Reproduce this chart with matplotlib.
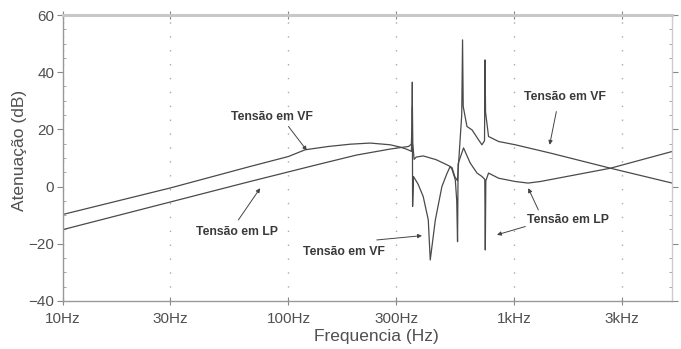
import numpy as np
import matplotlib
matplotlib.use("Agg")
import matplotlib.pyplot as plt
from matplotlib.ticker import FixedLocator, MultipleLocator, NullFormatter

# Data (frequency in Hz, attenuation in dB)
vf_freq = [10, 30, 67.6, 100, 118.5, 150, 187.6, 230, 282, 312, 335, 350,
           352.5, 353.5, 354.5, 357.8, 375, 395, 416, 424.4, 447, 478, 503,
           520, 530, 545, 560, 585, 590, 594, 617, 650, 695, 719, 738,
           742, 746, 769, 852, 1010, 1444, 2665, 5000]
vf_db = [-9.8, -0.5, 7.0, 10.5, 12.85, 14.0, 14.8, 15.2, 14.6, 13.8, 13.0, 12.3,
         18, 36.5, -7, 3.5, 0.8, -3.5, -11.7, -25.7, -11.7, 0, 4.5,
         7.0, 6.6, 3.5, 2.0, 25, 51.3, 28, 21, 19.8, 16.3, 14.6, 16,
         44.3, 26, 17.5, 15.75, 14.6, 11.7, 6.4, 1.2]

lp_freq = [10, 67.6, 133.5, 200, 282, 312, 340, 350, 352.8, 353.8, 355,
           360, 368, 395, 450, 503, 520, 530, 548, 556, 560.6, 564, 596,
           638, 684, 719, 740, 744, 748, 769, 852, 1010, 1150, 1304, 2665,
           5000]
lp_db = [-15.1, 1.75, 7.6, 11.0, 13.1, 13.6, 14.0, 14.8, 22, 28, 15.3,
         9.5, 10.3, 10.7, 9.4, 7.6, 7.0, 6.0, 2.3, -5, -19.3, 8, 13.5,
         8.2, 4.7, 3.5, 2.5, -22.2, 2.0, 4.7, 2.9, 1.75, 1.2, 1.75, 6.4,
         12.25]

x_ticks = [10, 30, 100, 300, 1000, 3000]
x_labels = ["10Hz", "30Hz", "100Hz", "300Hz", "1kHz", "3kHz"]
y_ticks = [-40, -20, 0, 20, 40, 60]

plt.rcParams["font.family"] = ["Liberation Sans", "DejaVu Sans"]

fig = plt.figure(figsize=(6.81, 3.49), dpi=100)
ax = fig.add_axes([0.092, 0.138, 0.895, 0.819])

line_color = "#4a4a4a"
ax.plot(lp_freq, lp_db, color=line_color, lw=0.9)
ax.plot(vf_freq, vf_db, color=line_color, lw=0.9)

ax.set_xscale("log")
ax.set_xlim(10, 5000)
ax.set_ylim(-40, 60)

ax.xaxis.set_major_locator(FixedLocator(x_ticks))
ax.xaxis.set_minor_locator(FixedLocator([]))
ax.set_xticks(x_ticks)
ax.set_xticklabels(x_labels)
ax.xaxis.set_minor_formatter(NullFormatter())
ax.set_yticks(y_ticks)
ax.yaxis.set_minor_locator(MultipleLocator(5))

text_color = "#505050"
ax.tick_params(axis="both", which="major", labelsize=11, colors="#888888",
               labelcolor=text_color)
ax.tick_params(axis="x", which="major", direction="inout", length=6,
               top=True, pad=5)
ax.tick_params(axis="y", which="major", direction="out", length=4,
               right=True, pad=2)
ax.tick_params(axis="y", which="minor", direction="in", length=2,
               right=True, colors="#999999")

for side in ["left", "bottom"]:
    ax.spines[side].set_color("#999999")
    ax.spines[side].set_linewidth(1.0)
ax.spines["top"].set_color("#c8c8c8")
ax.spines["top"].set_linewidth(2.2)
ax.spines["right"].set_color("#cccccc")
ax.spines["right"].set_linewidth(1.0)

# sparse dotted grid on the frequency ticks
ax.grid(True, axis="x", which="major", color="#aaaaaa", lw=1.0,
        linestyle=(0, (1, 9)))

ax.set_xlabel("Frequencia (Hz)", fontsize=12.5, color=text_color)
ax.set_ylabel("Atenuação (dB)", fontsize=12.5, color=text_color)
ax.xaxis.set_label_coords(0.515, -0.1)
ax.yaxis.set_label_coords(-0.058, 0.525)

arrow = dict(arrowstyle="-|>", lw=0.7, color="#444444", mutation_scale=6,
             shrinkA=0, shrinkB=0)
label_kw = dict(fontsize=8.8, fontweight="bold", color="#3a3a3a",
                ha="center", va="center")

ax.text(84.7, 24.4, "Tensão em VF", **label_kw)
ax.annotate("", xy=(120.6, 12.6), xytext=(100, 21), arrowprops=arrow)

ax.text(58.9, -15.9, "Tensão em LP", **label_kw)
ax.annotate("", xy=(74.9, -0.6), xytext=(60, -11.7), arrowprops=arrow)

ax.text(176, -22.9, "Tensão em VF", **label_kw)
ax.annotate("", xy=(390, -17.2), xytext=(246, -18.7), arrowprops=arrow)

ax.text(1735, -11.7, "Tensão em LP", **label_kw)
ax.annotate("", xy=(1153, -0.6), xytext=(1278, -8.2), arrowprops=arrow)
ax.annotate("", xy=(838, -16.9), xytext=(1119, -14), arrowprops=arrow)

ax.text(1683, 31.4, "Tensão em VF", **label_kw)
ax.annotate("", xy=(1434, 14.6), xytext=(1535, 26.2), arrowprops=arrow)

fig.savefig("out.png", dpi=100)
